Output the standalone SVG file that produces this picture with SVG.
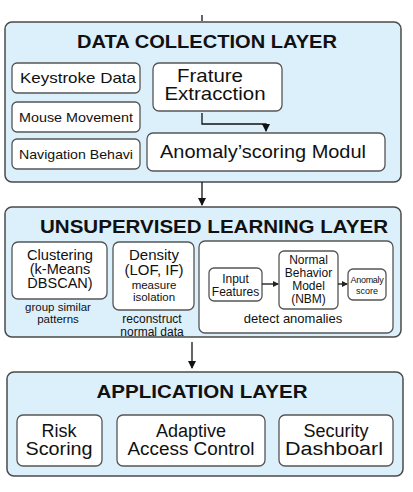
<svg xmlns="http://www.w3.org/2000/svg" width="413" height="492" viewBox="0 0 413 492">
<defs>
<marker id="ah" markerWidth="8" markerHeight="8" refX="7" refY="4" orient="auto" markerUnits="userSpaceOnUse"><path d="M0,0 L8,4 L0,8 Z" fill="#111"/></marker>
<marker id="ahs" markerWidth="6" markerHeight="6" refX="5" refY="3" orient="auto" markerUnits="userSpaceOnUse"><path d="M0,0 L6,3 L0,6 Z" fill="#222"/></marker>
<style>
.layer{fill:#dcf0fc;stroke:#4a4a4a;stroke-width:1.5}
.box{fill:#fff;stroke:#555;stroke-width:1.3}
.title{font-family:"Liberation Sans",Arial,sans-serif;font-weight:bold;fill:#111;text-anchor:middle}
.t{font-family:"Liberation Sans",Arial,sans-serif;fill:#111;text-anchor:middle}
.conn{stroke:#111;stroke-width:1.3;fill:none}
</style>
</defs>
<rect width="413" height="492" fill="#fff"/>

<g id="layer-data">
<rect class="layer" x="5" y="22" width="396" height="160" rx="7"/>
<text class="title" x="207" y="48" font-size="19" textLength="260" lengthAdjust="spacingAndGlyphs">DATA COLLECTION LAYER</text>
</g>
<g id="keystroke"><rect class="box" x="12" y="63" width="128" height="30" rx="5"/><text class="t" x="78" y="83" font-size="14.5" textLength="116" lengthAdjust="spacingAndGlyphs">Keystroke Data</text></g>
<g id="mouse"><rect class="box" x="12" y="102" width="128" height="30" rx="5"/><text class="t" x="76" y="122" font-size="13.5" textLength="114" lengthAdjust="spacingAndGlyphs">Mouse Movement</text></g>
<g id="navigation"><rect class="box" x="12" y="139" width="128" height="30" rx="5"/><text class="t" x="76" y="159" font-size="13.5" textLength="114" lengthAdjust="spacingAndGlyphs">Navigation Behavi</text></g>
<g id="feature"><rect class="box" x="153" y="63" width="129" height="48" rx="6"/><text class="t" x="210" y="82" font-size="18.5" textLength="66" lengthAdjust="spacingAndGlyphs">Frature</text><text class="t" x="215" y="100" font-size="18.5" textLength="101" lengthAdjust="spacingAndGlyphs">Extracction</text></g>
<g id="anomaly-module"><rect class="box" x="147" y="133" width="238" height="38" rx="6"/><text class="t" x="263" y="158" font-size="19" textLength="206" lengthAdjust="spacingAndGlyphs">Anomaly’scoring Modul</text></g>

<g id="layer-unsup">
<rect class="layer" x="5" y="207" width="396" height="130" rx="7"/>
<text class="title" x="214" y="233" font-size="19" textLength="348" lengthAdjust="spacingAndGlyphs">UNSUPERVISED LEARNING LAYER</text>
</g>
<g id="clustering"><rect class="box" x="12" y="242" width="95" height="57" rx="6"/>
<text class="t" x="60" y="260" font-size="14.5" textLength="66" lengthAdjust="spacingAndGlyphs">Clustering</text><text class="t" x="60" y="274" font-size="14.5">(k-Means</text><text class="t" x="60" y="288" font-size="14.5">DBSCAN)</text>
<text class="t" x="58" y="311" font-size="11.5">group similar</text><text class="t" x="58" y="323" font-size="11.5">patterns</text></g>
<g id="density"><rect class="box" x="113" y="242" width="81" height="68" rx="6"/>
<text class="t" x="154" y="260" font-size="15">Density</text><text class="t" x="154" y="275" font-size="15">(LOF, IF)</text>
<text class="t" x="154" y="289" font-size="11.5">measure</text><text class="t" x="154" y="301" font-size="11.5">isolation</text>
<text class="t" x="152" y="323" font-size="12">reconstruct</text><text class="t" x="152" y="336" font-size="12">normal data</text></g>
<g id="detect"><rect class="box" x="199" y="241" width="194" height="92" rx="6"/><text class="t" x="293" y="323" font-size="13">detect anomalies</text></g>
<g id="input-features"><rect class="box" x="209" y="268" width="53" height="33" rx="5"/><text class="t" x="235.5" y="283" font-size="12">Input</text><text class="t" x="235.5" y="296" font-size="12">Features</text></g>
<g id="nbm"><rect class="box" x="279" y="251" width="59" height="58" rx="5"/><text class="t" x="308.5" y="264" font-size="12">Normal</text><text class="t" x="308.5" y="277" font-size="12">Behavior</text><text class="t" x="308.5" y="290" font-size="12">Model</text><text class="t" x="308.5" y="303" font-size="12">(NBM)</text></g>
<g id="anomaly-score"><rect class="box" x="348" y="269" width="38" height="31" rx="5"/><text class="t" x="367" y="283" font-size="9" letter-spacing="-0.3">Anomaly</text><text class="t" x="367" y="294" font-size="9">score</text></g>

<g id="layer-app">
<rect class="layer" x="7" y="372" width="396" height="104" rx="7"/>
<text class="title" x="202" y="398" font-size="19" textLength="211" lengthAdjust="spacingAndGlyphs">APPLICATION LAYER</text>
</g>
<g id="risk"><rect class="box" x="17" y="415" width="85" height="51" rx="6"/><text class="t" x="59" y="437" font-size="18">Risk</text><text class="t" x="59" y="455" font-size="18" textLength="67" lengthAdjust="spacingAndGlyphs">Scoring</text></g>
<g id="adaptive"><rect class="box" x="117" y="415" width="148" height="51" rx="6"/><text class="t" x="191" y="437" font-size="18">Adaptive</text><text class="t" x="191" y="455" font-size="18" textLength="127" lengthAdjust="spacingAndGlyphs">Access Control</text></g>
<g id="dashboard"><rect class="box" x="279" y="415" width="114" height="51" rx="6"/><text class="t" x="336" y="437" font-size="18">Security</text><text class="t" x="334" y="455" font-size="18" textLength="98" lengthAdjust="spacingAndGlyphs">Dashboarl</text></g>

<g id="connectors">
<line class="conn" x1="202" y1="15" x2="202" y2="21" stroke-width="1.5"/>
<polyline class="conn" points="202,113 202,124 266,124 266,131" marker-end="url(#ah)"/>
<line class="conn" x1="202" y1="182" x2="202" y2="205" marker-end="url(#ah)"/>
<line class="conn" x1="192" y1="342" x2="192" y2="368" marker-end="url(#ah)" stroke="#333"/>
<line class="conn" x1="262" y1="284" x2="278" y2="284" marker-end="url(#ahs)"/>
<line class="conn" x1="338" y1="284" x2="347" y2="284" marker-end="url(#ahs)"/>
</g>
</svg>
